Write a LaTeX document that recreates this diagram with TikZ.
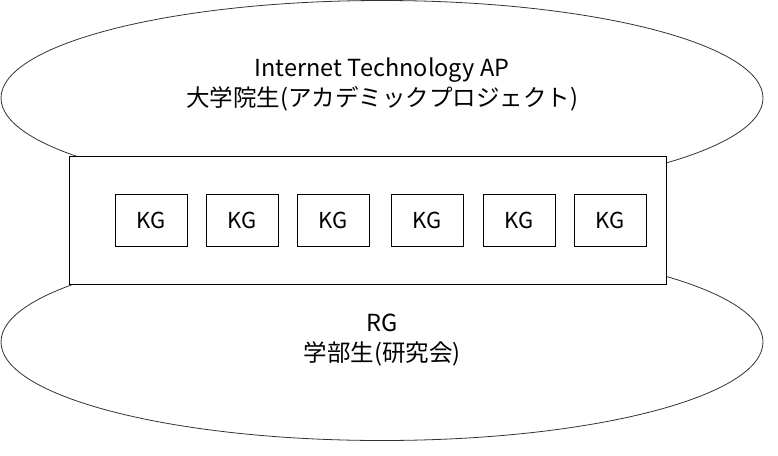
\documentclass[tikz,border=0pt]{standalone}
\usepackage{fontspec}
\setmainfont{Noto Sans CJK JP}
\usetikzlibrary{shapes.geometric}
\tikzset{
  group/.style={draw=black!80, line width=0.8pt, fill=white, ellipse, inner sep=0pt},
  frame/.style={draw=black, line width=0.8pt, fill=white, minimum width=597pt, minimum height=128pt, inner sep=0pt},
  kg/.style={draw=black, line width=0.8pt, minimum width=72pt, minimum height=52pt, inner sep=0pt, font=\fontsize{22}{26}\selectfont},
  label/.style={align=center, font=\fontsize{23.5}{30}\selectfont, inner sep=0pt}
}
\begin{document}
\begin{tikzpicture}[x=1pt,y=-1pt]
\useasboundingbox (0,0) rectangle (778,455);
\node[group, minimum width=762pt, minimum height=195pt] (ap) at (382,98) {};
\node[group, minimum width=762pt, minimum height=197pt] (rg) at (382,342) {};
\node[frame] (box) at (367.5,220) {};
\node[label] (aptext) at (382,84) {Internet Technology AP\\大学院生(アカデミックプロジェクト)};
\node[label] (rgtext) at (382,340) {RG\\学部生(研究会)};
\node[kg] (k1) at (151,220) {KG};
\node[kg] (k2) at (242,220) {KG};
\node[kg] (k3) at (333,220) {KG};
\node[kg] (k4) at (427,220) {KG};
\node[kg] (k5) at (519,220) {KG};
\node[kg] (k6) at (610,220) {KG};
\end{tikzpicture}
\end{document}
